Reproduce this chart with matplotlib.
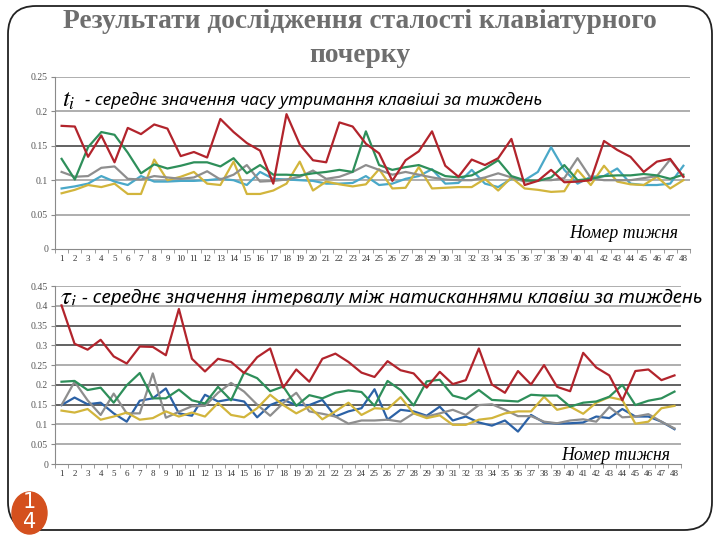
import matplotlib
matplotlib.use("Agg")
import matplotlib.pyplot as plt
from matplotlib.patches import FancyBboxPatch, Ellipse
import numpy as np

plt.rcParams['mathtext.fontset'] = 'stix'

weeks = list(range(1, 49))
week_labels = [str(w) for w in weeks]

title_line1 = "Результати дослідження сталості клавіатурного"
title_line2 = "почерку"
label_top = "- середнє значення часу утримання клавіші за тиждень"
label_bot = "- середнє значення інтервалу між натисканнями клавіш за тиждень"
xlabel = "Номер тижня"

top_yticks = [0, 0.05, 0.1, 0.15, 0.2, 0.25]
top_yticklabels = ["0", "0.05", "0.1", "0.15", "0.2", "0.25"]
bot_yticks = [0, 0.05, 0.1, 0.15, 0.2, 0.25, 0.3, 0.35, 0.4, 0.45]
bot_yticklabels = ["0", "0.05", "0.1", "0.15", "0.2", "0.25", "0.3", "0.35", "0.4", "0.45"]

# --- top chart: mean key hold time ---
top_red = [0.179, 0.178, 0.134, 0.165, 0.126, 0.176, 0.167, 0.181, 0.175, 0.135,
           0.141, 0.133, 0.189, 0.170, 0.154, 0.143, 0.095, 0.196, 0.152, 0.129,
           0.126, 0.184, 0.178, 0.153, 0.139, 0.099, 0.129, 0.142, 0.171, 0.121,
           0.105, 0.130, 0.122, 0.132, 0.160, 0.093, 0.099, 0.115, 0.097, 0.098,
           0.100, 0.157, 0.144, 0.134, 0.112, 0.127, 0.131, 0.105]
top_green = [0.131, 0.101, 0.148, 0.170, 0.166, 0.140, 0.110, 0.123, 0.117, 0.121,
             0.126, 0.126, 0.120, 0.132, 0.110, 0.122, 0.108, 0.108, 0.107, 0.110,
             0.112, 0.115, 0.112, 0.171, 0.122, 0.115, 0.119, 0.122, 0.115, 0.106,
             0.104, 0.107, 0.117, 0.129, 0.106, 0.100, 0.099, 0.104, 0.122, 0.100,
             0.102, 0.106, 0.107, 0.107, 0.109, 0.107, 0.102, 0.108]
top_gray = [0.112, 0.105, 0.106, 0.118, 0.120, 0.102, 0.101, 0.106, 0.104, 0.102,
            0.104, 0.113, 0.101, 0.108, 0.122, 0.098, 0.099, 0.101, 0.105, 0.114,
            0.102, 0.105, 0.112, 0.122, 0.115, 0.108, 0.112, 0.108, 0.104, 0.101,
            0.100, 0.100, 0.104, 0.110, 0.104, 0.098, 0.100, 0.100, 0.103, 0.132,
            0.103, 0.100, 0.100, 0.100, 0.103, 0.106, 0.130, 0.105]
top_cyan = [0.088, 0.091, 0.095, 0.106, 0.098, 0.093, 0.106, 0.098, 0.098, 0.099,
            0.099, 0.100, 0.102, 0.100, 0.093, 0.112, 0.102, 0.101, 0.100, 0.099,
            0.095, 0.095, 0.096, 0.106, 0.093, 0.095, 0.102, 0.106, 0.116, 0.095,
            0.096, 0.115, 0.095, 0.090, 0.102, 0.100, 0.112, 0.148, 0.115, 0.095,
            0.105, 0.106, 0.117, 0.095, 0.093, 0.093, 0.095, 0.121]
top_yellow = [0.081, 0.086, 0.093, 0.090, 0.095, 0.080, 0.080, 0.130, 0.100, 0.105,
              0.112, 0.095, 0.093, 0.127, 0.080, 0.080, 0.085, 0.095, 0.127, 0.085,
              0.098, 0.094, 0.091, 0.094, 0.116, 0.088, 0.089, 0.119, 0.088, 0.089,
              0.090, 0.090, 0.102, 0.085, 0.104, 0.088, 0.086, 0.083, 0.084, 0.115,
              0.093, 0.121, 0.098, 0.094, 0.093, 0.105, 0.088, 0.100]

# --- bottom chart: mean interval between key presses ---
bot_red = [0.401, 0.304, 0.289, 0.314, 0.272, 0.254, 0.297, 0.296, 0.275, 0.392,
           0.266, 0.234, 0.266, 0.258, 0.230, 0.270, 0.292, 0.193, 0.239, 0.208,
           0.266, 0.279, 0.258, 0.231, 0.220, 0.260, 0.237, 0.229, 0.193, 0.233,
           0.202, 0.212, 0.292, 0.201, 0.180, 0.235, 0.201, 0.250, 0.195, 0.184,
           0.281, 0.244, 0.224, 0.161, 0.235, 0.239, 0.212, 0.224]
bot_green = [0.208, 0.210, 0.187, 0.193, 0.155, 0.199, 0.230, 0.166, 0.166, 0.188,
             0.161, 0.153, 0.195, 0.161, 0.231, 0.217, 0.184, 0.196, 0.147, 0.174,
             0.166, 0.180, 0.186, 0.182, 0.147, 0.210, 0.187, 0.148, 0.209, 0.213,
             0.173, 0.164, 0.187, 0.162, 0.160, 0.158, 0.175, 0.173, 0.173, 0.145,
             0.155, 0.158, 0.170, 0.200, 0.149, 0.160, 0.166, 0.183]
bot_gray = [0.149, 0.208, 0.161, 0.124, 0.178, 0.128, 0.128, 0.229, 0.117, 0.132,
            0.146, 0.147, 0.180, 0.205, 0.183, 0.150, 0.122, 0.154, 0.180, 0.133,
            0.127, 0.120, 0.102, 0.110, 0.110, 0.112, 0.107, 0.128, 0.120, 0.128,
            0.137, 0.124, 0.149, 0.151, 0.137, 0.121, 0.121, 0.107, 0.103, 0.110,
            0.113, 0.107, 0.144, 0.118, 0.120, 0.126, 0.107, 0.090]
bot_blue = [0.149, 0.168, 0.151, 0.155, 0.128, 0.107, 0.160, 0.166, 0.191, 0.128,
            0.122, 0.175, 0.158, 0.164, 0.158, 0.118, 0.149, 0.162, 0.149, 0.149,
            0.162, 0.120, 0.133, 0.141, 0.189, 0.112, 0.137, 0.133, 0.122, 0.145,
            0.110, 0.120, 0.105, 0.097, 0.110, 0.082, 0.124, 0.105, 0.102, 0.103,
            0.105, 0.120, 0.116, 0.139, 0.120, 0.120, 0.107, 0.088]
bot_yellow = [0.135, 0.130, 0.139, 0.112, 0.120, 0.130, 0.112, 0.116, 0.133, 0.120,
              0.130, 0.120, 0.154, 0.124, 0.118, 0.141, 0.175, 0.149, 0.128, 0.145,
              0.113, 0.133, 0.155, 0.124, 0.141, 0.139, 0.169, 0.128, 0.116, 0.123,
              0.099, 0.099, 0.112, 0.116, 0.128, 0.133, 0.133, 0.170, 0.137, 0.145,
              0.127, 0.155, 0.169, 0.162, 0.102, 0.107, 0.141, 0.147]

C_RED = "#B2242C"
C_GREEN = "#2E8F5A"
C_GRAY = "#8E8E8E"
C_CYAN = "#4AA8C8"
C_BLUE = "#2C62A6"
C_YELLOW = "#D2B53C"

fig = plt.figure(figsize=(7.2, 5.4), dpi=100)
fig.patch.set_facecolor("white")

bg = fig.add_axes([0, 0, 1, 1], zorder=0)
bg.set_xlim(0, 720)
bg.set_ylim(540, 0)
bg.axis("off")
bg.add_patch(FancyBboxPatch((8, 6), 704, 524,
                            boxstyle="round,pad=0,rounding_size=28",
                            fill=False, ec="#222222", lw=1.3))
bg.add_patch(Ellipse((29.5, 513), 35, 42, color="#D4501E"))
bg.text(29.5, 502, "1", color="white", fontsize=15, ha="center", va="center",
        family="DejaVu Sans")
bg.text(29.5, 522, "4", color="white", fontsize=15, ha="center", va="center",
        family="DejaVu Sans")
bg.text(360, 22, title_line1, ha="center", va="center", fontsize=19.8,
        fontweight="bold", family="Liberation Serif", color="#6E6E6E")
bg.text(360, 56, title_line2, ha="center", va="center", fontsize=19.8,
        fontweight="bold", family="Liberation Serif", color="#6E6E6E")


def style_axes(ax, yticks, yticklabels, ylim, dark_levels):
    ax.set_xlim(0.5, 48.5)
    ax.set_ylim(*ylim)
    ax.patch.set_alpha(0)
    for s in ("top", "right"):
        ax.spines[s].set_visible(False)
    ax.spines["left"].set_color("#8A8A8A")
    ax.spines["bottom"].set_color("#8A8A8A")
    ax.set_yticks(yticks)
    ax.set_yticklabels(yticklabels, family="Liberation Serif", fontsize=7,
                       color="#555555")
    ax.set_xticks(weeks)
    ax.set_xticklabels(week_labels, family="Liberation Serif", fontsize=6.5,
                       color="#333333")
    ax.set_xticks(np.arange(0.5, 49, 1), minor=True)
    ax.tick_params(axis="x", which="major", length=0, pad=4)
    ax.tick_params(axis="x", which="minor", length=3, color="#8A8A8A")
    ax.tick_params(axis="y", length=3, color="#8A8A8A", pad=2)
    for v in yticks[1:]:
        col = "#555555" if v in dark_levels else "#A8A8A8"
        ax.axhline(v, color=col, lw=1.3, zorder=0.5)


ax1 = fig.add_axes([55 / 720, 1 - 249 / 540, 635 / 720, 172 / 540], zorder=1)
style_axes(ax1, top_yticks, top_yticklabels, (0, 0.25), [0.15])
for ys, c in [(top_cyan, C_CYAN), (top_yellow, C_YELLOW), (top_gray, C_GRAY),
              (top_green, C_GREEN), (top_red, C_RED)]:
    ax1.plot(weeks, ys, color=c, lw=1.6, zorder=2)

ax2 = fig.add_axes([55 / 720, 1 - 464 / 540, 626 / 720, 178 / 540], zorder=1)
style_axes(ax2, bot_yticks, bot_yticklabels, (0, 0.45), [0.35, 0.3, 0.2, 0.15])
for ys, c in [(bot_blue, C_BLUE), (bot_gray, C_GRAY), (bot_yellow, C_YELLOW),
              (bot_green, C_GREEN), (bot_red, C_RED)]:
    ax2.plot(weeks, ys, color=c, lw=1.6, zorder=2)

# annotations
bg.text(62, 100, r"$t_i$", fontsize=18, va="center", ha="left", zorder=5)
bg.text(85, 100, label_top, fontsize=12.4, style="italic", family="Noto Sans",
        va="center", ha="left", zorder=5)
bg.text(60, 298, r"$\tau_i$", fontsize=18, va="center", ha="left", zorder=5)
bg.text(82, 298, label_bot, fontsize=13.6, style="italic", family="Noto Sans",
        va="center", ha="left", zorder=5)
bg.text(678, 233, xlabel, fontsize=12.8, style="italic", family="Liberation Serif",
        va="center", ha="right", zorder=5)
bg.text(670, 455, xlabel, fontsize=12.8, style="italic", family="Liberation Serif",
        va="center", ha="right", zorder=5)

fig.savefig("out.png", dpi=100)
